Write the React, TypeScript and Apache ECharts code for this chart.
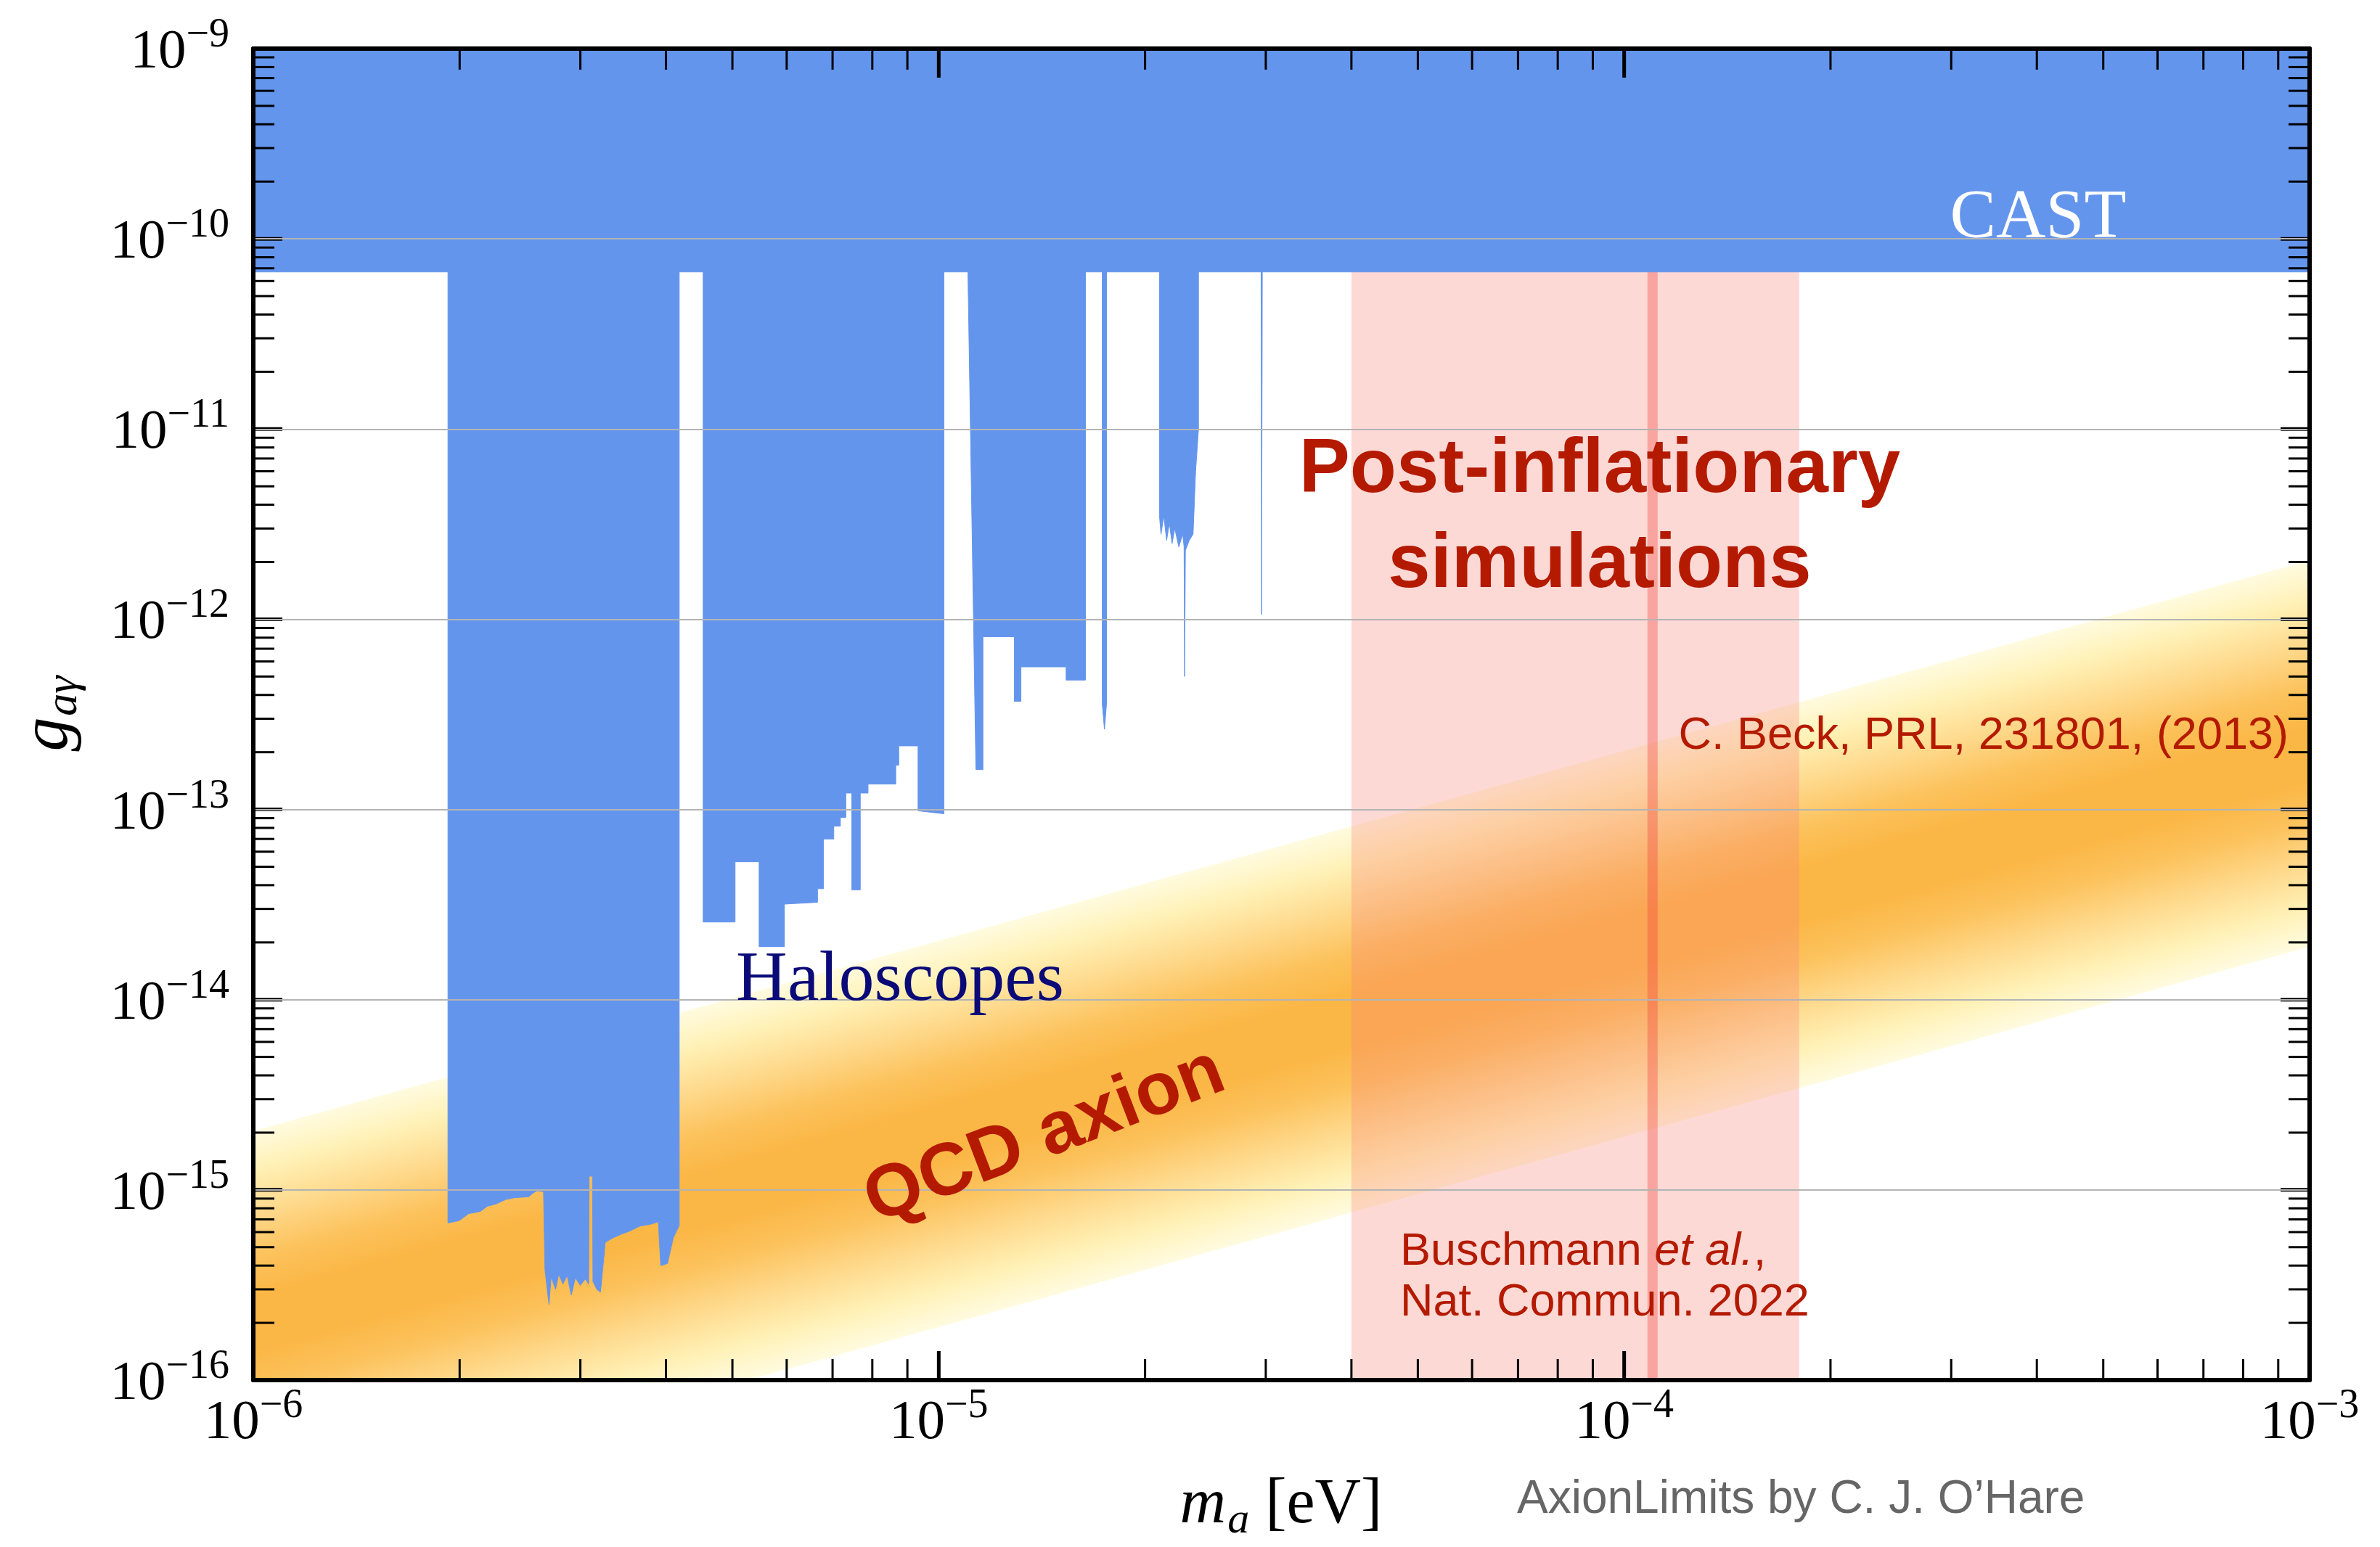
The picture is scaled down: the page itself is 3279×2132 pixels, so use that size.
import React, { useEffect, useRef } from "react";
import * as echarts from "echarts";

// ---------- axes ----------
const X_MIN = 1e-6;
const X_MAX = 1e-3;
const Y_MIN = 1e-16;
const Y_MAX = 1e-9;
const X_MAJOR_TICKS = [1e-6, 1e-5, 1e-4, 1e-3];
const Y_MAJOR_TICKS = [1e-16, 1e-15, 1e-14, 1e-13, 1e-12, 1e-11, 1e-10, 1e-9];
const MINOR_MULTIPLES = [2, 3, 4, 5, 6, 7, 8, 9];
const X_DECADES = [1e-6, 1e-5, 1e-4];
const Y_DECADES = [1e-16, 1e-15, 1e-14, 1e-13, 1e-12, 1e-11, 1e-10];

// ---------- data ----------
const CAST_LIMIT = 6.7e-11;

// lower boundary of the excluded (blue) region: CAST + haloscopes
const HALO_MASS = [
  1e-6, 1.923e-6, 1.923e-6, 1.998e-6, 2.062e-6, 2.144e-6, 2.194e-6, 2.263e-6, 2.335e-6, 2.408e-6,
  2.523e-6, 2.562e-6, 2.594e-6, 2.651e-6, 2.664e-6, 2.7e-6, 2.72e-6, 2.76e-6, 2.79e-6, 2.83e-6,
  2.87e-6, 2.91e-6, 2.95e-6, 3.0e-6, 3.05e-6, 3.085e-6, 3.09e-6, 3.125e-6, 3.13e-6, 3.17e-6,
  3.21e-6, 3.262e-6, 3.35e-6, 3.443e-6, 3.55e-6, 3.664e-6, 3.8e-6, 3.899e-6, 3.93e-6, 4.02e-6,
  4.1e-6, 4.182e-6, 4.182e-6,
  4.532e-6, 4.532e-6, 5.045e-6, 5.045e-6, 5.47e-6, 5.47e-6, 5.955e-6, 5.955e-6, 6.655e-6, 6.655e-6,
  6.791e-6, 6.791e-6, 7.029e-6, 7.029e-6, 7.187e-6, 7.187e-6, 7.319e-6, 7.319e-6, 7.467e-6, 7.467e-6,
  7.683e-6, 7.683e-6, 7.886e-6, 7.886e-6, 8.656e-6, 8.656e-6, 8.744e-6, 8.744e-6, 9.329e-6, 9.329e-6,
  1.0174e-5, 1.0174e-5,
  1.103e-5, 1.133e-5, 1.16e-5, 1.16e-5, 1.289e-5, 1.289e-5, 1.318e-5, 1.318e-5, 1.534e-5, 1.534e-5,
  1.637e-5, 1.637e-5,
  1.732e-5, 1.732e-5, 1.745e-5, 1.757e-5, 1.757e-5,
  2.099e-5, 2.099e-5, 2.11e-5, 2.13e-5, 2.15e-5, 2.17e-5, 2.19e-5, 2.21e-5, 2.24e-5, 2.27e-5,
  2.28e-5, 2.284e-5, 2.29e-5, 2.32e-5, 2.35e-5, 2.37e-5, 2.393e-5, 2.393e-5,
  2.953e-5, 2.958e-5, 2.965e-5,
  1e-3,
];
const HALO_G = [
  CAST_LIMIT, CAST_LIMIT, 6.7e-16, 6.9e-16, 7.5e-16, 7.7e-16, 8.2e-16, 8.45e-16, 8.9e-16, 9.1e-16,
  9.2e-16, 9.65e-16, 9.9e-16, 9.8e-16, 3.8e-16, 2.5e-16, 3.5e-16, 3.0e-16, 3.6e-16, 3.2e-16,
  3.55e-16, 2.8e-16, 3.45e-16, 3.15e-16, 3.4e-16, 3.2e-16, 1.18e-15, 1.18e-15, 3.3e-16, 3.0e-16,
  2.9e-16, 5.3e-16, 5.6e-16, 5.85e-16, 6.1e-16, 6.45e-16, 6.6e-16, 6.8e-16, 4.0e-16, 4.1e-16,
  5.6e-16, 6.5e-16, CAST_LIMIT,
  CAST_LIMIT, 2.56e-14, 2.56e-14, 5.31e-14, 5.31e-14, 1.9e-14, 1.9e-14, 3.18e-14, 3.25e-14, 3.83e-14,
  3.83e-14, 7.0e-14, 7.0e-14, 8.17e-14, 8.17e-14, 9.08e-14, 9.08e-14, 1.22e-13, 1.22e-13, 3.78e-14,
  3.78e-14, 1.22e-13, 1.22e-13, 1.36e-13, 1.36e-13, 1.71e-13, 1.71e-13, 2.16e-13, 2.16e-13, 9.84e-14,
  9.5e-14, CAST_LIMIT,
  CAST_LIMIT, 1.62e-13, 1.62e-13, 8.09e-13, 8.09e-13, 3.7e-13, 3.7e-13, 5.62e-13, 5.62e-13, 4.79e-13,
  4.79e-13, CAST_LIMIT,
  CAST_LIMIT, 3.6e-13, 2.64e-13, 3.6e-13, CAST_LIMIT,
  CAST_LIMIT, 3.5e-12, 2.8e-12, 3.5e-12, 2.6e-12, 3.2e-12, 2.5e-12, 3.0e-12, 2.4e-12, 2.8e-12,
  2.4e-12, 5.0e-13, 2.3e-12, 2.6e-12, 2.8e-12, 6.0e-12, 1.0e-11, CAST_LIMIT,
  CAST_LIMIT, 1.06e-12, CAST_LIMIT,
  CAST_LIMIT,
];

// QCD axion band (edges)
const QCD_MASS = [1e-6, 1e-3];
const QCD_UPPER = [2.04e-15, 2.04e-12];
const QCD_LOWER = [1.9e-17, 1.9e-14];

// post-inflationary simulations band and Beck line
const POST_INFL_MASS = [4.0e-5, 1.8e-4];
const BECK_MASS = 1.1e-4;

// ---------- styles ----------
const SERIF = "'Liberation Serif', 'DejaVu Serif', serif";
const SANS = "'Liberation Sans', Arimo, 'DejaVu Sans', sans-serif";
const RED = "#b41a00";
const BLUE = "#6495ED";

function clipPolygon(points: number[][], r: any) {
  const xmin = r.x, xmax = r.x + r.width, ymin = r.y, ymax = r.y + r.height;
  const clips = [
    { inside: (p: number[]) => p[0] >= xmin, inter: (a: number[], b: number[]) => { const t = (xmin - a[0]) / (b[0] - a[0]); return [xmin, a[1] + t * (b[1] - a[1])]; } },
    { inside: (p: number[]) => p[0] <= xmax, inter: (a: number[], b: number[]) => { const t = (xmax - a[0]) / (b[0] - a[0]); return [xmax, a[1] + t * (b[1] - a[1])]; } },
    { inside: (p: number[]) => p[1] >= ymin, inter: (a: number[], b: number[]) => { const t = (ymin - a[1]) / (b[1] - a[1]); return [a[0] + t * (b[0] - a[0]), ymin]; } },
    { inside: (p: number[]) => p[1] <= ymax, inter: (a: number[], b: number[]) => { const t = (ymax - a[1]) / (b[1] - a[1]); return [a[0] + t * (b[0] - a[0]), ymax]; } },
  ];
  let out = points;
  for (const c of clips) {
    const input = out;
    out = [];
    for (let i = 0; i < input.length; i++) {
      const cur = input[i];
      const prev = input[(i + input.length - 1) % input.length];
      const ci = c.inside(cur), pi = c.inside(prev);
      if (ci) {
        if (!pi) out.push(c.inter(prev, cur));
        out.push(cur);
      } else if (pi) {
        out.push(c.inter(prev, cur));
      }
    }
  }
  return out;
}

const xMinorTicks: number[] = [];
X_DECADES.forEach((d) => MINOR_MULTIPLES.forEach((k) => xMinorTicks.push(k * d)));
const yMinorTicks: number[] = [];
Y_DECADES.forEach((d) => MINOR_MULTIPLES.forEach((k) => yMinorTicks.push(k * d)));

const MINOR_LEN = 29;
const MAJOR_LEN = 40;

function xTickRender(len: number, width: number) {
  return (params: any, api: any) => {
    const cs = params.coordSys;
    const p = api.coord([api.value(0), 1e-12]);
    const x = p[0];
    const bottom = cs.y + cs.height;
    return {
      type: "group",
      children: [
        { type: "line", shape: { x1: x, y1: bottom, x2: x, y2: bottom - len }, style: { stroke: "#000", lineWidth: width } },
        { type: "line", shape: { x1: x, y1: cs.y, x2: x, y2: cs.y + len }, style: { stroke: "#000", lineWidth: width } },
      ],
    };
  };
}
function yTickRender(len: number, width: number) {
  return (params: any, api: any) => {
    const cs = params.coordSys;
    const p = api.coord([1e-5, api.value(1)]);
    const y = p[1];
    const right = cs.x + cs.width;
    return {
      type: "group",
      children: [
        { type: "line", shape: { x1: cs.x, y1: y, x2: cs.x + len, y2: y }, style: { stroke: "#000", lineWidth: width } },
        { type: "line", shape: { x1: right, y1: y, x2: right - len, y2: y }, style: { stroke: "#000", lineWidth: width } },
      ],
    };
  };
}

const tickLabelRich = {
  b: { fontSize: 77, fontFamily: SERIF, color: "#000" },
  s: { fontSize: 56, fontFamily: SERIF, color: "#000", padding: [0, 0, 44, 0] },
};
const expFormatter = (v: number) => `{b|10}{s|−${-Math.round(Math.log10(v))}}`;

const bandStops = [
  { offset: 0, color: "#fffbe0" },
  { offset: 0.1, color: "#fff1b6" },
  { offset: 0.22, color: "#fed88a" },
  { offset: 0.33, color: "#fcc25c" },
  { offset: 0.43, color: "#fbb746" },
  { offset: 0.57, color: "#fbb746" },
  { offset: 0.67, color: "#fcc25c" },
  { offset: 0.78, color: "#fed88a" },
  { offset: 0.9, color: "#fff1b6" },
  { offset: 1, color: "#fffbe0" },
];

function buildOption(): any {
  return {
    animation: false,
    backgroundColor: "#fff",
    grid: { left: 349, right: 97, top: 67, bottom: 230, containLabel: false },
    xAxis: [
      {
        type: "log", logBase: 10, min: X_MIN, max: X_MAX, position: "bottom", z: 10,
        axisLine: { show: true, onZero: false, lineStyle: { color: "#000", width: 6 } },
        axisTick: { show: false },
        splitLine: { show: false },
        axisLabel: { formatter: expFormatter, rich: tickLabelRich, margin: 4 },
      },
      {
        type: "log", logBase: 10, min: X_MIN, max: X_MAX, position: "top", z: 10,
        axisLine: { show: true, onZero: false, lineStyle: { color: "#000", width: 6 } },
        axisTick: { show: false }, splitLine: { show: false }, axisLabel: { show: false },
      },
    ],
    yAxis: [
      {
        type: "log", logBase: 10, min: Y_MIN, max: Y_MAX, position: "left", z: 10,
        axisLine: { show: true, onZero: false, lineStyle: { color: "#000", width: 6 } },
        axisTick: { show: false },
        splitLine: { show: true, lineStyle: { color: "#b4b4b4", width: 2 } },
        axisLabel: { formatter: expFormatter, rich: tickLabelRich, margin: 33 },
      },
      {
        type: "log", logBase: 10, min: Y_MIN, max: Y_MAX, position: "right", z: 10,
        axisLine: { show: true, onZero: false, lineStyle: { color: "#000", width: 6 } },
        axisTick: { show: false }, splitLine: { show: false }, axisLabel: { show: false },
      },
    ],
    series: [
      {
        type: "custom", name: "QCD axion", z: 1, silent: true,
        data: [[QCD_MASS[0], QCD_UPPER[0]]],
        renderItem: (params: any, api: any) => {
          const cs = params.coordSys;
          const u0 = api.coord([QCD_MASS[0], QCD_UPPER[0]]);
          const u1 = api.coord([QCD_MASS[1], QCD_UPPER[1]]);
          const l1 = api.coord([QCD_MASS[1], QCD_LOWER[1]]);
          const l0 = api.coord([QCD_MASS[0], QCD_LOWER[0]]);
          const dx = u1[0] - u0[0], dy = u1[1] - u0[1];
          const len = Math.hypot(dx, dy);
          const nx = -dy / len, ny = dx / len;
          const dist = (l0[0] - u0[0]) * nx + (l0[1] - u0[1]) * ny;
          const gx2 = u0[0] + nx * dist, gy2 = u0[1] + ny * dist;
          return {
            type: "polygon",
            shape: { points: clipPolygon([u0, u1, l1, l0], cs) },
            style: { fill: new echarts.graphic.LinearGradient(u0[0], u0[1], gx2, gy2, bandStops, true) },
          };
        },
      },
      {
        type: "custom", name: "Post-inflationary", z: 2, silent: true,
        data: [[POST_INFL_MASS[0], 1e-12]],
        renderItem: (params: any, api: any) => {
          const cs = params.coordSys;
          const a = api.coord([POST_INFL_MASS[0], 1e-12]);
          const b = api.coord([POST_INFL_MASS[1], 1e-12]);
          const c = api.coord([BECK_MASS, 1e-12]);
          return {
            type: "group",
            children: [
              { type: "rect", shape: { x: a[0], y: cs.y, width: b[0] - a[0], height: cs.height }, style: { fill: "rgba(250,128,118,0.3)" } },
              { type: "line", shape: { x1: c[0], y1: cs.y, x2: c[0], y2: cs.y + cs.height }, style: { stroke: "rgba(240,70,60,0.36)", lineWidth: 14 } },
            ],
          };
        },
      },
      {
        type: "line", name: "Haloscopes + CAST", z: 3, silent: true, symbol: "none", clip: true,
        data: HALO_MASS.map((m, i) => [m, HALO_G[i]]),
        lineStyle: { color: BLUE, width: 1 },
        areaStyle: { color: BLUE, opacity: 1, origin: "end" },
      },
      {
        type: "custom", name: "xMinor", z: 8, silent: true,
        data: xMinorTicks.map((v) => [v, 1e-12]),
        renderItem: xTickRender(MINOR_LEN, 3),
      },
      {
        type: "custom", name: "xMajor", z: 8, silent: true,
        data: X_MAJOR_TICKS.map((v) => [v, 1e-12]),
        renderItem: xTickRender(MAJOR_LEN, 5),
      },
      {
        type: "custom", name: "yMinor", z: 8, silent: true,
        data: yMinorTicks.map((v) => [1e-5, v]),
        renderItem: yTickRender(MINOR_LEN, 3),
      },
      {
        type: "custom", name: "yMajor", z: 8, silent: true,
        data: Y_MAJOR_TICKS.map((v) => [1e-5, v]),
        renderItem: yTickRender(MAJOR_LEN, 5),
      },
    ],
    graphic: [
      { type: "text", x: 2808, y: 295, z: 50, style: { text: "CAST", fill: "#fff", fontFamily: SERIF, fontSize: 95, align: "center", verticalAlign: "middle" } },
      { type: "text", x: 1240, y: 1345, z: 50, style: { text: "Haloscopes", fill: "#0a0a78", fontFamily: SERIF, fontSize: 98, align: "center", verticalAlign: "middle" } },
      { type: "text", x: 2204, y: 641, z: 50, style: { text: "Post-inflationary", fill: RED, fontFamily: SANS, fontWeight: "bold", fontSize: 105, align: "center", verticalAlign: "middle" } },
      { type: "text", x: 2204, y: 772, z: 50, style: { text: "simulations", fill: RED, fontFamily: SANS, fontWeight: "bold", fontSize: 105, align: "center", verticalAlign: "middle" } },
      { type: "text", x: 1437, y: 1560, z: 50, rotation: (21 * Math.PI) / 180, style: { text: "QCD axion", fill: RED, fontFamily: SANS, fontWeight: "bold", fontSize: 102, align: "center", verticalAlign: "middle" } },
      { type: "text", x: 3153, y: 1010, z: 50, style: { text: "C. Beck, PRL, 231801, (2013)", fill: RED, fontFamily: SANS, fontSize: 63, align: "right", verticalAlign: "middle" } },
      {
        type: "text", x: 1929, y: 1721, z: 50,
        style: {
          text: "Buschmann {i|et al.},", fill: RED, fontFamily: SANS, fontSize: 63, align: "left", verticalAlign: "middle",
          rich: { i: { fill: RED, fontFamily: SANS, fontSize: 63, fontStyle: "italic" } },
        },
      },
      { type: "text", x: 1929, y: 1791, z: 50, style: { text: "Nat. Commun. 2022", fill: RED, fontFamily: SANS, fontSize: 63, align: "left", verticalAlign: "middle" } },
      { type: "text", x: 2090, y: 2063, z: 50, style: { text: "AxionLimits by C. J. O’Hare", fill: "#666666", fontFamily: SANS, fontSize: 64, align: "left", verticalAlign: "middle" } },
      {
        type: "text", x: 1765, y: 2068, z: 50,
        style: {
          text: "{m|m}{sub|a} [eV]", fill: "#000", fontFamily: SERIF, fontSize: 88, align: "center", verticalAlign: "middle",
          rich: {
            m: { fill: "#000", fontFamily: SERIF, fontSize: 88, fontStyle: "italic" },
            sub: { fill: "#000", fontFamily: SERIF, fontSize: 60, fontStyle: "italic", padding: [48, 0, 0, 2] },
          },
        },
      },
      // y-axis title g_{aγ}, rotated: main letter and subscript
      {
        type: "text", x: 60, y: 1012, z: 50, rotation: Math.PI / 2,
        style: { text: "g", fill: "#000", fontFamily: SERIF, fontSize: 94, fontStyle: "italic", align: "center", verticalAlign: "middle" },
      },
      {
        type: "text", x: 84, y: 959, z: 50, rotation: Math.PI / 2,
        style: { text: "aγ", fill: "#000", fontFamily: SERIF, fontSize: 62, fontStyle: "italic", align: "center", verticalAlign: "middle" },
      },
    ],
  };
}

export default function App() {
  const ref = useRef<HTMLDivElement>(null);
  useEffect(() => {
    if (!ref.current) return;
    const chart = echarts.init(ref.current, null, { renderer: "svg" });
    chart.setOption(buildOption());
    return () => chart.dispose();
  }, []);
  return (
    <div
      ref={ref}
      style={{ position: "absolute", left: 0, top: 0, width: "3279px", height: "2132px", background: "#fff" }}
    />
  );
}
